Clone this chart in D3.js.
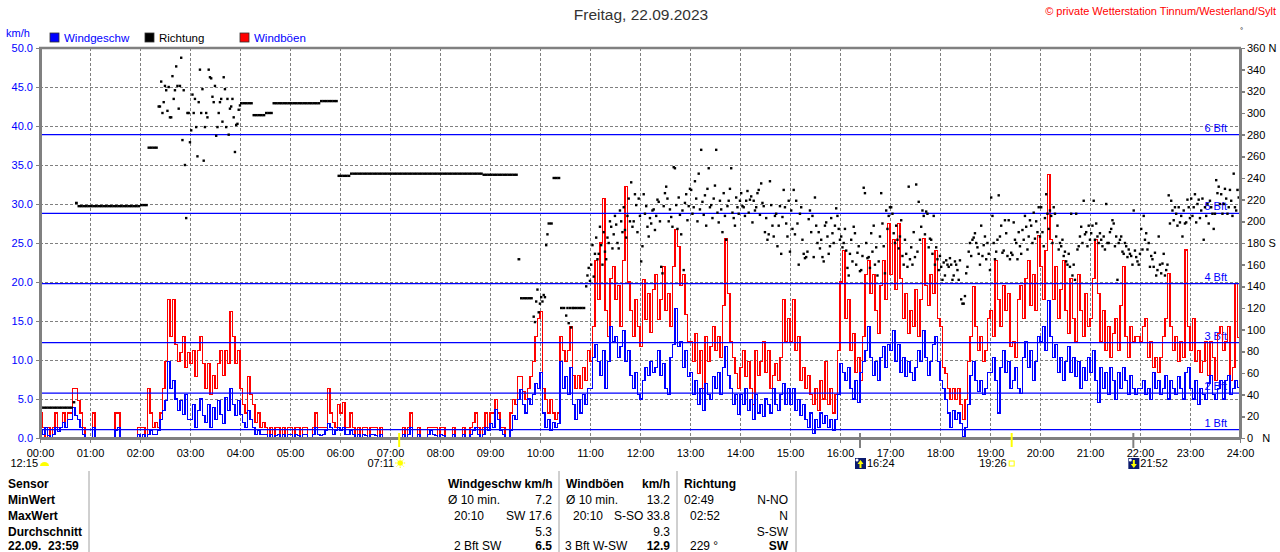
<!DOCTYPE html>
<html lang="de">
<head>
<meta charset="UTF-8">
<title>Wind 22.09.2023</title>
<style>
  body { margin: 0; background: #fff; }
  svg { display: block; font-family: "Liberation Sans", Arial, sans-serif; }
  .grid line { stroke: #808080; stroke-width: 1; stroke-dasharray: 3,2; shape-rendering: crispEdges; }
  .axis path, .axis line { stroke: #808080; shape-rendering: crispEdges; }
  .axis path { stroke-width: 2.5; }
  .axis line { stroke-width: 1.5; }
  .axis text { font-size: 11px; font-family: "Liberation Sans", Arial, sans-serif; }
  .tbl text { font-size: 12px; }
</style>
</head>
<body>
<svg id="chart" width="1280" height="552"></svg>

<script src="https://d3js.org/d3.v7.min.js"></script>
<script>
// --- data, one row per hour, 3-minute steps (km/h) ---
const windSpeed = [
  [1.0,0.5,1.4,0.3,0,0.5,1.4,0.8,1.4,2.0,1.4,2.4,2.4,3.9,2.9,2.4,1.4,0.5,0,0],
  [0,1.4,0,0,0,0,0,0,0,0,1.0,1.4,0,0,0,0,0,0,0,0.5],
  [0,0.5,0,0.5,1.0,0.5,0.5,1.0,2.4,3.5,4.8,9.8,6.4,7.4,5.0,3.5,4.8,3.0,5.6,2.4],
  [2.4,4.3,1.4,3.5,5.0,2.9,2.0,4.3,1.4,3.9,2.4,4.8,3.0,1.9,5.2,3.5,6.4,4.3,2.9,4.8],
  [3.0,2.0,1.4,3.5,2.4,1.4,0.5,1.0,0.5,0.5,0.5,0,0.5,0,0.3,0.5,0,0.5,0,0.5],
  [0.5,0,0.5,0.3,0,0.5,0.5,0,0,0.5,1.4,0.5,0.3,0.5,1.0,1.9,1.4,0.5,1.0,1.4],
  [1.0,1.4,0.5,0.5,1.0,0.5,0,0.5,0,0.5,0.3,0,0.5,0.5,0.3,0,0.5,0,0,0],
  [0,0,0,0,0,0.5,0,0.5,1.4,0,0,0.5,0,0,0,0.5,1.0,0.5,0.3,0],
  [0.5,0.3,0,0,0,0.5,0,0,0,0.5,0,0,0.5,1.0,1.4,0.5,0,0.5,1.4,1.0],
  [1.9,1.4,3.6,2.4,1.0,0.5,0,0,1.0,2.9,2.4,4.9,6.2,4.3,3.2,5.0,4.3,5.6,7.0,6.4],
  [8.4,3.2,1.4,2.4,1.0,2.0,1.4,1.9,9.8,6.4,7.9,5.6,9.0,4.3,2.4,4.9,3.2,5.6,4.3,6.4],
  [6.4,10.3,12.0,9.8,8.0,11.2,6.4,9.8,14.3,12.4,13.0,10.3,11.7,13.8,9.8,11.2,8.0,6.4,8.4,5.6],
  [5.0,7.4,9.0,8.0,9.8,8.4,9.0,11.2,8.0,9.5,6.4,5.6,10.3,12.0,16.6,11.7,12.4,9.0,11.2,7.9],
  [8.4,5.6,7.4,4.3,6.4,3.5,7.0,5.6,4.9,7.9,6.4,8.4,5.6,9.0,11.7,8.0,6.4,4.3,5.6,3.0],
  [5.6,4.3,6.4,3.5,4.9,2.4,5.6,3.2,4.3,2.7,5.0,4.3,3.2,6.4,4.3,3.5,5.6,7.0,4.3,6.4],
  [4.3,6.4,3.5,4.9,2.9,4.3,2.4,1.4,3.2,0.6,2.4,1.4,3.2,1.9,2.9,1.4,2.4,1.0,2.4,5.6],
  [9.5,8.4,7.4,9.0,6.4,5.0,7.4,4.6,8.4,9.8,11.2,14.3,10.3,8.0,9.8,7.4,10.3,11.7,9.0,12.0],
  [11.2,13.8,9.8,12.0,8.4,10.3,7.9,9.8,8.4,7.4,9.0,11.2,9.8,13.8,10.3,8.0,9.8,12.0,13.0,9.8],
  [7.4,6.4,4.9,3.2,1.4,3.5,2.4,3.2,1.9,0.2,1.4,4.3,8.0,9.8,7.4,6.0,7.4,5.6,6.4,8.4],
  [8.4,10.3,7.4,3.2,9.0,11.2,8.4,9.8,6.4,7.4,9.0,6.4,5.7,10.3,12.4,9.0,11.2,7.4,9.8,13.0],
  [12.4,14.3,11.2,17.6,13.0,10.3,12.0,8.4,10.3,7.4,9.8,11.7,8.4,10.3,7.9,9.8,6.4,9.0,7.4,10.3],
  [8.4,11.2,7.4,4.5,9.0,6.4,8.4,5.6,9.0,7.4,4.9,8.4,6.4,9.0,7.4,5.6,8.0,6.4,5.6,6.4],
  [6.4,7.4,5.6,6.4,4.9,8.4,6.4,7.4,5.6,6.4,8.0,5.0,7.4,6.4,5.6,7.9,6.4,5.0,8.4,9.0],
  [6.4,5.0,7.4,4.3,6.4,5.6,4.9,7.0,8.0,5.6,4.9,6.4,7.4,5.0,7.4,8.0,5.6,6.4,7.4,6.5]
];

const windGust = [
  [3.2,1.4,0,1.4,0,1.4,3.2,1.4,1.4,3.2,1.4,3.2,3.2,6.4,6.4,4.8,3.2,1.4,0,0],
  [0,3.2,0,0,0,0,0,0,0,0,3.2,3.2,0,0,0,0,0,0,0,1.4],
  [1.4,1.4,0,6.4,3.2,1.4,2.0,1.4,3.2,6.4,9.8,17.7,13.0,17.7,12.0,9.8,11.0,13.0,9.0,11.0],
  [9.5,11.2,7.9,11.2,13.0,9.5,6.4,9.5,5.6,8.0,6.4,9.5,11.2,8.0,11.2,9.5,16.2,13.0,9.5,11.2],
  [6.4,4.3,3.2,7.9,5.6,4.3,2.0,3.2,1.4,2.0,1.4,0,1.4,0,1.4,1.4,0,1.4,0,1.4],
  [1.4,0,1.4,1.4,0,1.4,1.4,0,0,1.4,3.2,1.4,1.4,1.4,1.4,6.4,3.2,2.0,1.4,4.3],
  [3.2,4.6,1.4,1.4,3.2,1.4,0,1.4,0,1.4,1.4,0,1.4,1.4,1.4,0,1.4,0,0,0],
  [0,0,0,0,0,1.4,0,1.4,3.2,0,0,1.4,0,0,0,1.4,1.4,1.4,1.4,0],
  [1.4,1.4,0,0,0,1.4,0,0,0,1.4,0,0,1.4,2.0,3.2,1.4,0,1.4,3.2,1.4],
  [3.2,3.2,4.9,3.2,1.4,1.4,0,0,3.2,4.9,4.3,7.9,7.9,6.0,4.9,6.4,7.9,9.8,13.0,15.3],
  [16.2,6.4,4.9,3.2,4.9,3.2,2.4,3.2,13.0,11.2,9.8,11.2,14.3,8.0,6.4,8.0,6.4,9.0,7.4,11.2],
  [9.8,14.3,22.8,17.7,25.0,30.7,16.4,13.0,20.5,22.0,17.7,19.5,14.3,22.8,32.2,20.0,16.4,13.0,17.7,14.3],
  [11.7,20.3,15.2,18.5,13.5,19.0,21.0,15.2,17.7,22.0,16.4,18.5,14.3,22.0,26.7,24.5,19.5,21.0,15.8,12.4],
  [12.4,9.8,13.4,8.3,11.2,6.4,13.0,9.8,11.7,14.3,11.2,13.0,10.3,17.0,25.6,18.5,12.4,10.3,8.3,6.4],
  [9.0,11.2,7.9,9.8,6.4,4.3,11.2,8.0,9.8,12.4,8.4,11.2,6.4,8.0,9.5,7.4,10.3,17.7,12.4,15.3],
  [12.4,17.7,11.2,13.0,7.4,9.0,6.4,8.0,5.6,4.3,6.4,3.5,7.4,5.0,9.8,4.3,6.4,3.2,5.6,11.2],
  [20.0,24.0,15.3,17.7,11.2,13.4,8.4,10.3,7.4,13.0,21.0,22.8,18.5,21.0,16.4,13.4,19.5,22.8,17.7,27.5],
  [21.0,25.4,19.0,27.5,20.5,15.3,18.5,13.4,16.4,14.3,19.0,13.0,17.7,25.6,19.5,17.0,21.0,18.5,24.0,15.3],
  [14.3,9.0,8.3,6.4,4.9,6.4,4.9,6.4,4.3,2.4,4.9,9.8,13.0,19.4,14.3,11.2,13.0,9.8,11.2,15.3],
  [16.4,13.0,22.8,17.7,14.3,19.5,16.4,18.5,11.7,12.4,10.3,17.7,19.5,15.3,20.5,22.8,17.0,21.0,16.4,26.0],
  [22.0,17.7,24.0,33.8,25.4,17.7,22.0,15.3,19.0,22.8,16.4,13.4,20.5,15.3,12.4,21.0,16.4,13.0,18.5,14.3],
  [15.3,20.5,25.4,18.5,12.4,16.4,11.2,14.3,10.3,13.4,15.3,11.2,17.0,22.0,13.0,10.3,14.3,12.4,13.0,13.0],
  [12.4,14.3,15.3,10.3,12.4,9.0,10.3,8.4,10.3,13.0,15.3,21.1,14.3,11.2,13.0,9.8,12.4,10.3,24.1,14.3],
  [11.2,15.3,9.8,11.2,8.4,9.8,12.4,8.0,12.4,10.3,7.4,13.4,14.3,11.2,12.4,14.3,7.4,9.0,19.8,12.9]
];

// direction in degrees, 3-minute steps; a pair = two readings inside the step
const direction = [
  [28,28,28,28,28,28,28,28,28,28,28,28,28,33,217,214,214,214,214,214],
  [214,214,214,214,214,214,214,214,214,214,214,214,214,214,214,214,214,214,214,214],
  [215,215,215,268,268,268,268,[306,306],[329,300],[310,325],[321,302],[324,296],[296,334],[313,321],[343,325],[304,325],[351,275],[321,252],[203,300],[300,273]],
  [[284,317],[300,313],[287,260],[310,340],[300,322],[256,287],[300,296],[340,333],[332,315],[310,325],[279,287],[300,310],[313,292],[333,322],[287,313],[280,304],[306,313],[296,264],[289,290],[303,307]],
  [309,309,309,309,309,298,298,298,298,298,300,300,300,309,309,309,309,309,309,309],
  [309,309,309,309,309,309,309,309,309,309,309,309,311,311,311,311,311,311,311,242],
  [242,242,242,242,244,244,244,244,244,244,244,244,244,244,244,244,244,244,244,244],
  [244,244,244,244,244,244,244,244,244,244,244,244,244,244,244,244,244,244,244,244],
  [244,244,244,244,244,244,244,244,244,244,244,244,244,244,244,244,244,243,243,243],
  [243,243,243,243,243,243,243,243,243,243,243,165,129,129,129,129,129,[112,107],[126,137],[116,124]],
  [[130,126],[132,130],[178,188],198,198,240,240,240,120,120,[113,120],[106,120],[102,120],120,120,120,120,120,[140,150],[157,145]],
  [[160,178],[149,170],[185,165],[170,195],[178,160],[190,172],[165,185],[180,200],[195,175],[188,205],[197,180],[175,210],[200,190],[213,192],[185,205],[221,200],[236,195],[200,225],[215,190],[221,205]],
  [[163,177],[225,207],[214,195],[186,203],[198,210],[211,192],[205,220],[218,200],[158,152],[214,226],[232,221],[200,211],[204,195],[250,249],[215,193],[222,206],[188,210],[155,217],[225,201],[214,230]],
  [[229,207],[213,237],[221,200],[244,211],[266,218],[206,224],[196,230],[249,213],[215,203],[221,233],[266,208],[199,219],[211,190],[226,205],[183,214],[219,230],[249,208],[203,196],[222,213],[207,219]],
  [[226,214],[213,205],[219,228],[208,220],[223,199],[219,210],[213,226],[229,206],[235,217],[214,190],[203,183],[188,237],[215,196],[186,205],[207,177],[196,214],[170,204],[229,213],[198,186],[219,172]],
  [[210,193],[229,188],[219,198],[160,207],[213,183],[170,166],[167,172],[202,210],[190,205],[167,222],[196,180],[190,175],[183,167],[163,196],[199,186],[170,177],[203,189],[180,196],[212,205],[193,183]],
  [[186,176],[180,193],[173,157],[150,170],[183,163],[195,189],[160,171],[177,154],[155,168],[231,226],[180,166],[167,157],[189,172],[196,160],[176,150],[163,186],[226,198],[177,152],[210,193],[205,213]],
  [[213,207],[189,180],[196,183],[175,186],[201,168],[160,183],[170,158],[232,165],[176,160],[190,167],[234,172],[218,183],[195,210],[205,188],[209,207],[176,184],[183,170],[205,160],[176,165],[155,168]],
  [[158,146],[162,150],[164,160],[158,166],[160,146],[150,163],[160,155],[146,164],[128,124],[124,131],[152,158],[172,180],[168,183],[185,189],[180,176],[170,160],[196,168],[178,186],[165,180],[170,155]],
  [[222,205],[180,165],[172,183],[224,186],[196,171],[173,201],[189,168],[201,165],[171,169],[199,183],[180,165],[190,177],[170,192],[183,205],[195,174],[186,201],[196,180],[208,184],[200,190],[213,186]],
  [[213,190],[177,203],[225,207],[193,210],[205,180],[213,207],[186,196],[174,180],[177,183],[168,172],[163,160],[170,158],[207,150],[160,146],[207,174],[177,186],[195,180],[219,188],[190,177],[196,183]],
  [[189,196],[219,183],[198,186],[180,189],[183,177],[186,174],[216,180],[180,190],[193,201],[198,177],[186,146],[180,183],[186,172],[170,180],[177,167],[174,170],[168,160],[210,173],[167,163],[160,170]],
  [[193,174],[205,183],[189,174],[180,158],[168,165],[158,171],[150,155],[186,160],[152,161],[170,150],[155,160],[224,198],[219,210],[201,213],[207,196],[213,199],[205,186],[210,198],[199,220],[213,203]],
  [[221,205],[213,225],[199,216],[220,203],[210,221],[183,213],[205,216],[198,219],[213,207],[193,207],[238,226],[232,216],[225,207],[216,230],[221,207],[213,229],[219,205],[244,213],[210,229],[222,229]]
];

const hourLabels = ["00:00","01:00","02:00","03:00","04:00","05:00","06:00","07:00","08:00","09:00","10:00","11:00","12:00",
  "13:00","14:00","15:00","16:00","17:00","18:00","19:00","20:00","21:00","22:00","23:00","24:00"];
const speedTicks = [0,5,10,15,20,25,30,35,40,45,50];
const dirTicks = [0,20,40,60,80,100,120,140,160,180,200,220,240,260,280,300,320,340,360];
const dirTickLabels = ["0   N","20","40","60","80","100","120","140","160","180 S","200","220","240","260","280","300","320","340","360 N"];
const bftNames = ["1 Bft","2 Bft","3 Bft","4 Bft","5 Bft","6 Bft"];
const bftKmh = [1.08, 5.76, 12.24, 19.8, 28.8, 38.9];

const legendNames = ["Windgeschw", "Richtung", "Windböen"];
const astroLabels = ["12:15", "07:11", "16:24", "19:26", "21:52"];
const astroMinutes = [0, 431, 984, 1166, 1312];
const astroKinds = ["moon", "sunrise", "moonrise", "sunset", "moonset"];

const tableRows = ["Sensor", "MinWert", "MaxWert", "Durchschnitt", "22.09.  23:59"];
const windStats = [["Ø 10 min.", "7.2"], ["20:10", "SW 17.6"], ["", "5.3"], ["2 Bft SW", "6.5"]];
const gustStats = [["Ø 10 min.", "13.2"], ["20:10", "S-SO 33.8"], ["", "9.3"], ["3 Bft W-SW", "12.9"]];
const dirStats = [["02:49", "N-NO"], ["02:52", "N"], ["", "S-SW"], ["229 °", "SW"]];

// --- chart ---
const STEP = 3;
const BLUE = "#0000ff", RED = "#ff0000", GREY = "#808080";
const svg = d3.select("#chart");

const x = d3.scaleLinear().domain([0, 1440]).range([40, 1240]);
const y = d3.scaleLinear().domain([0, 50]).range([438, 48]);
const yDir = d3.scaleLinear().domain([0, 360]).range([438, 48]);

const speed = windSpeed.flat();
const gust = windGust.flat();
const dirs = direction.flat();

// grid
const grid = svg.append("g").attr("class", "grid");
grid.selectAll("line.v").data(d3.range(1, 24)).join("line")
    .attr("x1", h => x(h * 60)).attr("x2", h => x(h * 60))
    .attr("y1", y(50)).attr("y2", y(0));
grid.selectAll("line.h").data(speedTicks.slice(1, -1)).join("line")
    .attr("x1", x(0)).attr("x2", x(1440))
    .attr("y1", d => y(d)).attr("y2", d => y(d));

// beaufort labels (under the data)
svg.append("g").selectAll("text").data(bftKmh).join("text")
    .attr("x", 1227).attr("y", d => y(d) - 3)
    .attr("text-anchor", "end")
    .attr("fill", BLUE).attr("font-size", 11)
    .text((d, i) => bftNames[i]);

const stepLine = d3.line()
    .curve(d3.curveStepAfter)
    .x((d, i) => x(i * STEP))
    .y(d => y(d));

// gusts
svg.append("path")
    .datum(gust.concat([gust[gust.length - 1]]))
    .attr("fill", "none").attr("stroke", RED).attr("stroke-width", 1.1)
    .attr("shape-rendering", "crispEdges")
    .attr("d", stepLine);

// beaufort lines
svg.append("g").selectAll("line").data(bftKmh).join("line")
    .attr("x1", x(0)).attr("x2", x(1440))
    .attr("y1", d => y(d)).attr("y2", d => y(d))
    .attr("stroke", BLUE).attr("stroke-width", 1.2);

// wind speed
svg.append("path")
    .datum(speed.concat([speed[speed.length - 1]]))
    .attr("fill", "none").attr("stroke", BLUE).attr("stroke-width", 1.1)
    .attr("shape-rendering", "crispEdges")
    .attr("d", stepLine);

// direction marks
const dirMarks = [];
dirs.forEach((d, i) => {
  if (d == null) return;
  if (Array.isArray(d)) {
    d.forEach((v, j) => dirMarks.push({ t: i * STEP + j * STEP / 2, v: v, w: 2.4 }));
  } else {
    dirMarks.push({ t: i * STEP, v: d, w: x(STEP) - x(0) + 0.3 });
  }
});
svg.append("g").selectAll("rect").data(dirMarks).join("rect")
    .attr("x", d => x(d.t)).attr("y", d => yDir(d.v) - 1.2)
    .attr("width", d => d.w).attr("height", 2.4)
    .attr("fill", "#000");

// axes
const leftAxis = svg.append("g").attr("class", "axis")
    .attr("transform", `translate(${x(0)},0)`)
    .call(d3.axisLeft(y).tickValues(speedTicks).tickFormat(d3.format(".1f")).tickSize(4).tickSizeOuter(0).tickPadding(3));
leftAxis.selectAll("text").attr("fill", BLUE);

const rightAxis = svg.append("g").attr("class", "axis")
    .attr("transform", `translate(${x(1440)},0)`)
    .call(d3.axisRight(yDir).tickValues(dirTicks).tickFormat((d, i) => dirTickLabels[i]).tickSize(5).tickSizeOuter(0).tickPadding(2));
rightAxis.selectAll("text").attr("fill", "#000").style("white-space", "pre").attr("xml:space", "preserve");

const bottomAxis = svg.append("g").attr("class", "axis")
    .attr("transform", `translate(0,${y(0)})`)
    .call(d3.axisBottom(x).tickValues(d3.range(0, 25).map(h => h * 60)).tickFormat((d, i) => hourLabels[i]).tickSize(5).tickSizeOuter(0).tickPadding(6));
bottomAxis.selectAll("text").attr("fill", "#000");

svg.append("line")
    .attr("x1", x(0) - 1).attr("x2", x(1440) + 1)
    .attr("y1", y(50)).attr("y2", y(50))
    .attr("stroke", GREY).attr("stroke-width", 2.5);

// title and credits
svg.append("text").attr("x", 641).attr("y", 20).attr("text-anchor", "middle")
    .attr("font-size", 15.5).attr("fill", "#333").text("Freitag, 22.09.2023");
svg.append("text").attr("x", 1276).attr("y", 15).attr("text-anchor", "end")
    .attr("font-size", 11).attr("fill", RED).text("© private Wetterstation Tinnum/Westerland/Sylt");
svg.append("text").attr("x", 1240).attr("y", 33)
    .attr("font-size", 8).attr("fill", "#000").text("°");
svg.append("text").attr("x", 6).attr("y", 37)
    .attr("font-size", 11).attr("fill", BLUE).text("km/h");

// legend
const legendColors = [BLUE, "#000", RED];
const legendText = [BLUE, "#000", BLUE];
const legend = svg.append("g").selectAll("g").data(legendNames).join("g")
    .attr("transform", (d, i) => `translate(${50 + i * 95},33)`);
legend.append("rect").attr("width", 9).attr("height", 9)
    .attr("fill", (d, i) => legendColors[i]).attr("stroke", "#333").attr("stroke-width", 0.8);
legend.append("text").attr("x", 14).attr("y", 9)
    .attr("font-size", 11.5).attr("fill", (d, i) => legendText[i]).text(d => d);

// sun and moon markers
const astro = svg.append("g");
astroKinds.forEach((k, i) => {
  const ax = x(astroMinutes[i]);
  const lbl = astroLabels[i];
  if (k === "sunrise" || k === "sunset") {
    astro.append("line").attr("x1", ax).attr("x2", ax).attr("y1", 433).attr("y2", 447)
        .attr("stroke", "#ffff00").attr("stroke-width", 2);
    astro.append("text").attr("x", ax - 5).attr("y", 467).attr("text-anchor", "end")
        .attr("font-size", 11).text(lbl);
    if (k === "sunrise") {
      astro.append("circle").attr("cx", ax + 1).attr("cy", 463).attr("r", 2.8).attr("fill", "#ffff00");
      d3.range(8).forEach(r => {
        const a = r * Math.PI / 4;
        astro.append("line")
            .attr("x1", ax + 1 + Math.cos(a) * 3.5).attr("y1", 463 + Math.sin(a) * 3.5)
            .attr("x2", ax + 1 + Math.cos(a) * 5).attr("y2", 463 + Math.sin(a) * 5)
            .attr("stroke", "#ffff00").attr("stroke-width", 1);
      });
    } else {
      astro.append("rect").attr("x", ax - 2.5).attr("y", 461).attr("width", 5).attr("height", 5)
          .attr("fill", "none").attr("stroke", "#ffff00").attr("stroke-width", 1);
    }
  } else if (k === "moonrise" || k === "moonset") {
    astro.append("line").attr("x1", ax).attr("x2", ax).attr("y1", 433).attr("y2", 448)
        .attr("stroke", GREY).attr("stroke-width", 2);
    astro.append("rect").attr("x", ax - 5).attr("y", 458).attr("width", 11).attr("height", 11).attr("fill", "#0a1a6e");
    astro.append("circle").attr("cx", ax - 3).attr("cy", 460).attr("r", 1.5).attr("fill", "#fff");
    const up = k === "moonrise";
    astro.append("path")
        .attr("d", up
          ? `M${ax + 0.5},${460} l-3,4 h2 v4 h2 v-4 h2 z`
          : `M${ax + 0.5},${468} l-3,-4 h2 v-4 h2 v4 h2 z`)
        .attr("fill", "#ffff00");
    astro.append("text").attr("x", ax + 7).attr("y", 467).attr("font-size", 11).text(lbl);
  } else {
    astro.append("text").attr("x", ax - 2).attr("y", 467).attr("text-anchor", "end")
        .attr("font-size", 11).text(lbl);
    astro.append("path").attr("d", `M${ax},${466} a4.5,4 0 0 1 9,0 z`).attr("fill", "#ffff00");
  }
});

// statistics table
const rowY = [488, 504, 520, 536, 550];
const tbl = svg.append("g").attr("class", "tbl");
[89, 559, 677, 796].forEach(sx => {
  tbl.append("line").attr("x1", sx).attr("x2", sx).attr("y1", 471).attr("y2", 552)
      .attr("stroke", "#a0a0a0").attr("stroke-width", 1);
});
tbl.selectAll("text.row").data(tableRows).join("text")
    .attr("x", 8).attr("y", (d, i) => rowY[i])
    .attr("font-weight", "bold").style("white-space", "pre").text(d => d);

const columns = [
  { head: ["Windgeschw km/h", ""], stats: windStats, left: [448, 454, 454, 454], right: 552, headX: 448 },
  { head: ["Windböen", "km/h"], stats: gustStats, left: [566, 573, 573, 565], right: 670, headX: 566 },
  { head: ["Richtung", ""], stats: dirStats, left: [690, 690, 690, 690], right: 788, headX: 684 }
];
columns.forEach(c => {
  tbl.append("text").attr("x", c.headX).attr("y", rowY[0]).attr("font-weight", "bold").text(c.head[0]);
  if (c.head[1]) {
    tbl.append("text").attr("x", c.right).attr("y", rowY[0]).attr("text-anchor", "end")
        .attr("font-weight", "bold").text(c.head[1]);
  }
  c.stats.forEach((s, i) => {
    const last = i === c.stats.length - 1;
    tbl.append("text").attr("x", i === 0 ? c.headX : c.left[i]).attr("y", rowY[i + 1]).text(s[0]);
    tbl.append("text").attr("x", c.right).attr("y", rowY[i + 1]).attr("text-anchor", "end")
        .attr("font-weight", last ? "bold" : "normal").text(s[1]);
  });
});
</script>
</body>
</html>
